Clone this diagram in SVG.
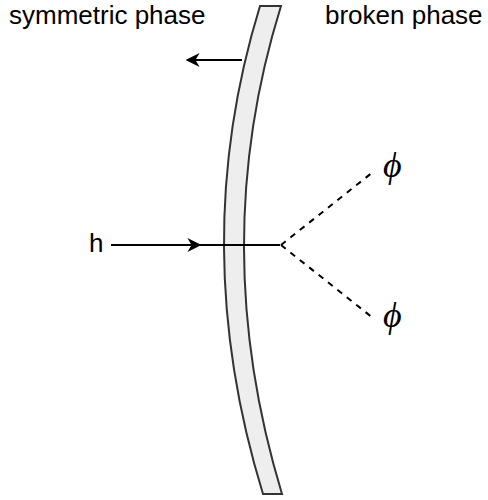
<svg xmlns="http://www.w3.org/2000/svg" width="488" height="500" viewBox="0 0 488 500">
<style>
.lbl{font-family:"Liberation Sans",Arial,sans-serif;font-size:26px;fill:#000}
.phi{font-family:"Liberation Serif","DejaVu Serif",serif;font-style:italic;font-size:36px;fill:#000}
.ln{stroke:#000;stroke-width:2;fill:none}
.dash{stroke:#000;stroke-width:2;fill:none;stroke-dasharray:6 6}
</style>
<defs>
<marker id="arrL" viewBox="0 0 10 10" refX="9" refY="5" markerWidth="14" markerHeight="14" markerUnits="userSpaceOnUse" orient="auto">
<path d="M0,0 L10,5 L0,10 L3,5 Z" fill="#000"/>
</marker>
</defs>
<g id="wall">
<path d="M260,6 L281,6 Q206.5,245 282,494 L263,494 Q186.5,245 260,6 Z" fill="#eeeeee" stroke="#333" stroke-width="2"/>
</g>
<g id="labels">
<text class="lbl" x="9" y="24">symmetric phase</text>
<text class="lbl" x="325" y="24">broken phase</text>
</g>
<g id="h"><text class="lbl" x="89" y="252">h</text></g>
<g id="phi1"><text class="phi" x="383" y="177">ϕ</text></g>
<g id="phi2"><text class="phi" x="383" y="327">ϕ</text></g>
<g id="connectors">
<line class="ln" x1="242" y1="60" x2="187" y2="60" marker-end="url(#arrL)"/>
<line class="ln" x1="111" y1="245" x2="200" y2="245" marker-end="url(#arrL)"/>
<line class="ln" x1="198" y1="245" x2="280" y2="245"/>
<line class="dash" x1="281" y1="245" x2="373" y2="172"/>
<line class="dash" x1="281" y1="245" x2="373" y2="318"/>
</g>
</svg>
